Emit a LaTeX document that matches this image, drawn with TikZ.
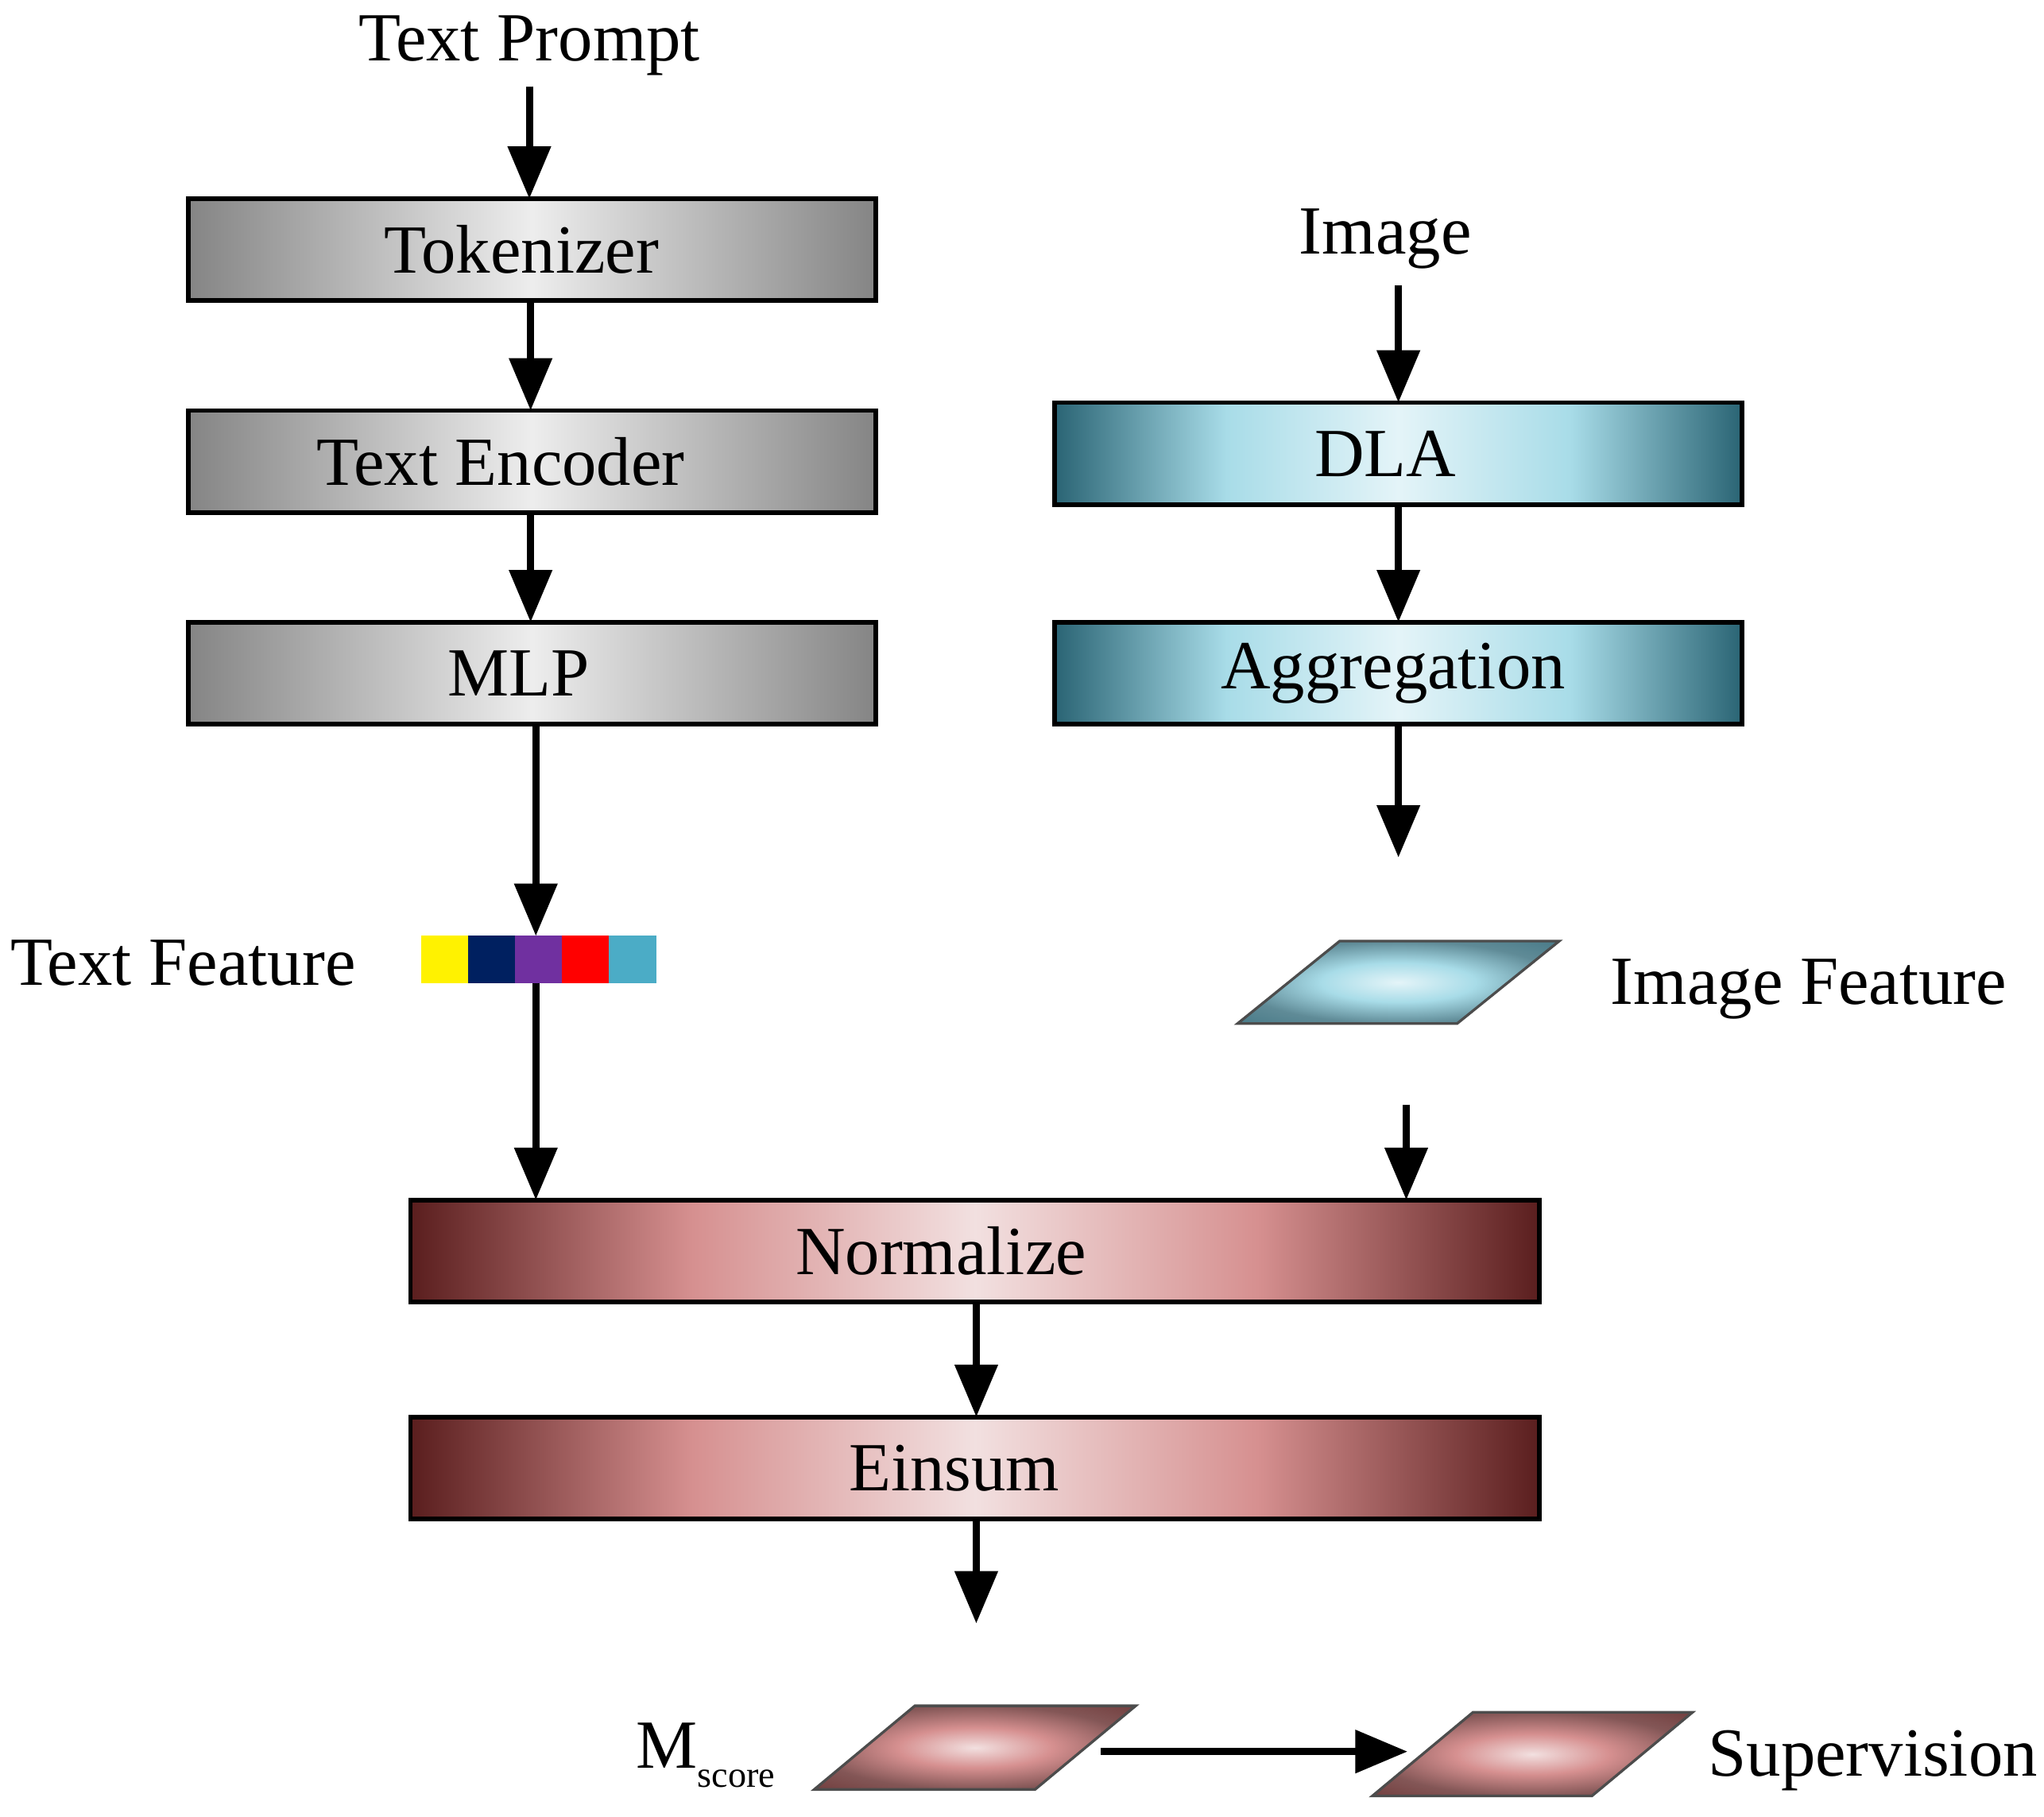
\documentclass[tikz,border=0pt]{standalone}
\usepackage{fontspec}
\setmainfont{Liberation Serif}
\usetikzlibrary{arrows.meta,calc}
\definecolor{rA}{HTML}{5A1E1E}\definecolor{rB}{HTML}{D69090}\definecolor{rC}{HTML}{F2E0E0}
\definecolor{tA}{HTML}{2A6474}\definecolor{tB}{HTML}{A8DCE8}\definecolor{tC}{HTML}{E4F4F8}
\definecolor{cNavy}{HTML}{002060}\definecolor{cPurple}{HTML}{7030A0}\definecolor{cCyan}{HTML}{4BACC6}
\pgfdeclarehorizontalshading{redsh}{100bp}{color(0bp)=(rA); color(25bp)=(rA); color(37.5bp)=(rB); color(50bp)=(rC); color(62.5bp)=(rB); color(75bp)=(rA); color(100bp)=(rA)}
\pgfdeclarehorizontalshading{tealsh}{100bp}{color(0bp)=(tA); color(25bp)=(tA); color(37.5bp)=(tB); color(50bp)=(tC); color(62.5bp)=(tB); color(75bp)=(tA); color(100bp)=(tA)}
\pgfdeclarehorizontalshading{graysh}{100bp}{color(0bp)=(black!48); color(25bp)=(black!48); color(50bp)=(black!7); color(75bp)=(black!48); color(100bp)=(black!48)}
\pgfdeclareradialshading{tealrad}{\pgfpoint{0bp}{0bp}}{color(0bp)=(tC); color(12bp)=(tB); color(25bp)=(tA!75); color(50bp)=(tA)}
\pgfdeclareradialshading{redrad}{\pgfpoint{0bp}{0bp}}{color(0bp)=(rC); color(12bp)=(rB); color(25bp)=(rA!75); color(50bp)=(rA)}
\begin{document}
\begin{tikzpicture}[x=0.1mm,y=-0.1mm,
 every node/.style={font=\fontsize{15}{17}\selectfont},
 box/.style={draw=black,line width=0.35mm},
 arr/.style={line width=0.55mm,-{Triangle[length=4mm,width=3.2mm]}}]
\useasboundingbox (0,0) rectangle (1564,1390);
% gray boxes
\path[box,shading=graysh] (144,152) rectangle (670,230);
\node (tok) at (399,191) {Tokenizer};
\path[box,shading=graysh] (144,314) rectangle (670,392);
\node (enc) at (383,353) {Text Encoder};
\path[box,shading=graysh] (144,476) rectangle (670,554);
\node (mlp) at (397,515) {MLP};
% teal
\path[box,shading=tealsh] (807,308) rectangle (1333,386);
\node (dla) at (1060,347) {DLA};
\path[box,shading=tealsh] (807,476) rectangle (1333,554);
\node (agg) at (1066,515) {Aggregation};
% red
\path[box,shading=redsh] (314,918) rectangle (1178,996);
\node (norm) at (720,957) {Normalize};
\path[box,shading=redsh] (314,1084) rectangle (1178,1162);
\node (ein) at (730,1123) {Einsum};
% color bar
\fill[yellow] (322,716) rectangle (358,752);
\fill[cNavy] (358,716) rectangle (394,752);
\fill[cPurple] (394,716) rectangle (430,752);
\fill[red] (430,716) rectangle (466,752);
\fill[cCyan] (466,716) rectangle (502,752);
% parallelograms
\path[draw=black!70,line width=0.2mm,shading=tealrad] (947,783)--(1025,720)--(1193,720)--(1115,783)--cycle;
\path[draw=black!70,line width=0.2mm,shading=redrad] (623,1369)--(700,1305)--(869,1305)--(792,1369)--cycle;
\path[draw=black!70,line width=0.2mm,shading=redrad] (1050,1374)--(1127,1310)--(1295,1310)--(1218,1374)--cycle;
% labels
\node (tp) at (405,35) {Text Prompt};
\node (img) at (1060,183) {Image};
\node at (140,737) {Text Feature};
\node at (1384,757) {Image Feature};
\node at (540,1343) {M\raisebox{-0.6ex}{\fontsize{8}{9}\selectfont score}};
\node at (1433,1347) {Supervision};
% coordinates
\coordinate (p1) at (405,66); \coordinate (p2) at (405,152);
\coordinate (a1) at (406,230); \coordinate (a2) at (406,314);
\coordinate (b1) at (406,392); \coordinate (b2) at (406,476);
\coordinate (c1) at (410,554); \coordinate (c2) at (410,716);
\coordinate (d1) at (410,752); \coordinate (d2) at (410,918);
\coordinate (e1) at (1070,218); \coordinate (e2) at (1070,308);
\coordinate (f1) at (1070,386); \coordinate (f2) at (1070,476);
\coordinate (g1) at (1070,554); \coordinate (g2) at (1070,656);
\coordinate (h1) at (1076,845); \coordinate (h2) at (1076,918);
\coordinate (i1) at (747,996); \coordinate (i2) at (747,1084);
\coordinate (j1) at (747,1162); \coordinate (j2) at (747,1242);
\coordinate (k1) at (842,1340); \coordinate (k2) at (1077,1340);
\foreach \s/\t in {p1/p2,a1/a2,b1/b2,c1/c2,d1/d2,e1/e2,f1/f2,g1/g2,h1/h2,i1/i2,j1/j2,k1/k2}
  \draw[arr] (\s) -- (\t);
\end{tikzpicture}
\end{document}
